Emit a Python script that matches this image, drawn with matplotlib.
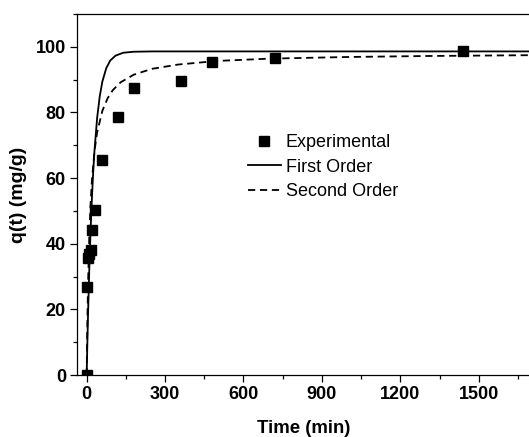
import matplotlib
matplotlib.use("Agg")
import matplotlib.pyplot as plt
from matplotlib.ticker import MultipleLocator

plt.rcParams['font.family'] = ['Liberation Sans', 'DejaVu Sans']

# --- data ---
t_exp = [0, 2, 5, 10, 15, 20, 30, 60, 120, 180, 360, 480, 720, 1440]
q_exp = [0, 26.8, 35.5, 37.0, 38.2, 44.3, 50.3, 65.4, 78.5, 87.6, 89.6, 95.5, 96.5, 98.6]

t_first = [0, 2, 5, 10, 15, 20, 25, 30, 40, 50, 60, 75, 90, 110, 140, 180, 250, 1700]
q_first = [0, 7.5, 17.7, 32.2, 44.1, 53.8, 61.9, 68.5, 78.3, 84.9, 89.4, 93.5, 95.8, 97.3, 98.2, 98.5, 98.6, 98.6]

t_second = [0, 2, 5, 10, 15, 20, 30, 40, 60, 80, 100, 130, 180, 250, 350, 500, 700, 1000, 1300, 1700]
q_second = [0, 13.0, 27.0, 42.4, 52.3, 59.2, 68.3, 73.9, 80.5, 84.3, 86.8, 89.2, 91.5, 93.3, 94.6, 95.7, 96.4, 96.9, 97.2, 97.45]

x_ticks = [0, 300, 600, 900, 1200, 1500]
y_ticks = [0, 20, 40, 60, 80, 100]

# --- figure ---
W, H = 529, 437
fig = plt.figure(figsize=(W / 100, H / 100), dpi=100)
# right edge of the axes runs off the figure, as in the original
ax = fig.add_axes([77 / W, 62 / H, 454 / W, 361 / H])

ax.plot(t_first, q_first, color='black', lw=1.3, label='First Order', zorder=2)
ax.plot(t_second, q_second, color='black', lw=1.3, linestyle=(0, (4, 2.6)),
        label='Second Order', zorder=2)
ax.plot(t_exp, q_exp, linestyle='none', marker='s', markersize=7.2,
        color='black', label='Experimental', zorder=3)

ax.set_xlim(-37, 1700)
ax.set_ylim(0, 110)
ax.set_xticks(x_ticks)
ax.set_yticks(y_ticks)
ax.xaxis.set_minor_locator(MultipleLocator(150))
ax.yaxis.set_minor_locator(MultipleLocator(10))

ax.tick_params(which='both', direction='out', top=False, right=False, width=0.9)
ax.tick_params(which='major', length=5, labelsize=13, pad=3)
ax.tick_params(which='minor', length=3)
for lab in ax.get_xticklabels() + ax.get_yticklabels():
    lab.set_fontweight('bold')

for s in ax.spines.values():
    s.set_linewidth(0.9)

ax.set_xlabel('Time (min)', fontsize=13.4, fontweight='bold')
ax.set_ylabel('q(t) (mg/g)', fontsize=14, fontweight='bold')
ax.xaxis.set_label_coords(0.5, -0.125)
ax.yaxis.set_label_coords(-0.110, 0.5)

h, l = ax.get_legend_handles_labels()
order = [2, 0, 1]
ax.legend([h[i] for i in order], [l[i] for i in order], frameon=False,
          fontsize=13, loc='upper left', bbox_to_anchor=(248 / W, 1 - 134 / H),
          bbox_transform=fig.transFigure, handlelength=1.8, handletextpad=0.3,
          labelspacing=0.42, borderpad=0, borderaxespad=0)

fig.savefig('out.png', dpi=100)
